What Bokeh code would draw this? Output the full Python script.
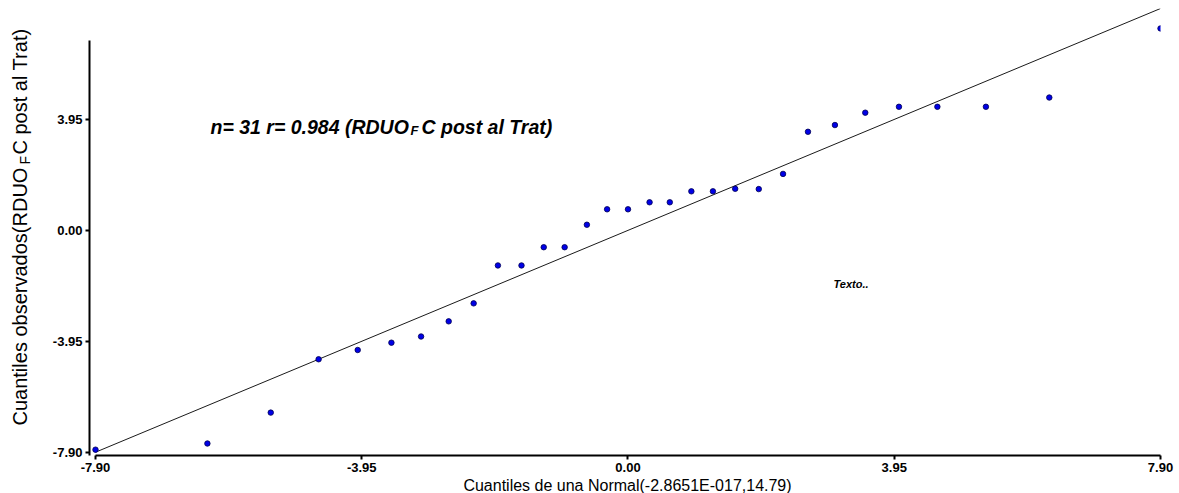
import math
from bokeh.plotting import figure
from bokeh.layouts import column, row
from bokeh.models import Label, FixedTicker, Range1d
from bokeh.core.properties import value
from bokeh.embed import file_html
from bokeh.resources import INLINE

# ---- data ----
theoretical = [-7.90, -6.24, -5.30, -4.59, -4.01, -3.51, -3.07, -2.66, -2.29,
               -1.93, -1.58, -1.25, -0.94, -0.61, -0.31, 0.00, 0.32, 0.62,
               0.94, 1.26, 1.59, 1.94, 2.30, 2.67, 3.07, 3.52, 4.02, 4.59,
               5.31, 6.25, 7.90]
observed = [-7.81, -7.59, -6.49, -4.59, -4.26, -4.00, -3.78, -3.24, -2.60,
            -1.25, -1.25, -0.60, -0.60, 0.20, 0.75, 0.75, 1.00, 1.00,
            1.39, 1.39, 1.48, 1.47, 2.01, 3.51, 3.75, 4.19, 4.40, 4.40,
            4.40, 4.73, 7.19]
ref_line_x = [-7.90, 7.90]
ref_line_y = [-7.90, 7.90]
x_tick_values = [-7.90, -3.95, 0.00, 3.95, 7.90]
x_tick_labels = ["-7.90", "-3.95", "0.00", "3.95", "7.90"]
y_tick_values = [-7.90, -3.95, 0.00, 3.95]
y_tick_labels = ["-7.90", "-3.95", "0.00", "3.95"]

x_title = "Cuantiles de una Normal(-2.8651E-017,14.79)"
y_title_a = "Cuantiles observados(RDUO"
y_title_sub = "F"
y_title_b = "C post al Trat)"
ann_a = "n= 31 r= 0.984 (RDUO"
ann_sub = "F"
ann_b = "C post al Trat)"
note = "Texto.."

FONT = "Liberation Sans"
W, H = 1179, 493
YT_W = 40          # width of the strip holding the vertical title
MAIN_H = 476       # height of the main plot
XT_H = H - MAIN_H  # strip holding the horizontal title
TOP, BOTTOM = 8, 21  # borders above / below the plotting frame


p = figure(width=W - YT_W, height=MAIN_H, output_backend="svg", toolbar_location=None,
           x_range=Range1d(-7.989, 7.90), y_range=Range1d(-8.017, 7.90),
           min_border_left=89 - YT_W, min_border_right=19, min_border_top=TOP,
           min_border_bottom=BOTTOM)
p.outline_line_color = None
p.xgrid.visible = False
p.ygrid.visible = False
p.background_fill_color = "white"
p.border_fill_color = "white"

# reference line
p.line(ref_line_x, ref_line_y, line_color="#1a1a1a", line_width=1)
# points
p.scatter(theoretical, observed, marker="circle", size=5.5,
          fill_color="#0000e6", line_color="#000050", line_width=0.8)

for ax, tv, tl in ((p.xaxis[0], x_tick_values, x_tick_labels),
                   (p.yaxis[0], y_tick_values, y_tick_labels)):
    ax.ticker = FixedTicker(ticks=tv)
    ax.major_label_overrides = {v: l for v, l in zip(tv, tl)}
    ax.minor_tick_line_color = None
    ax.major_tick_in = 0
    ax.major_tick_out = 4
    ax.axis_line_width = 2
    ax.major_tick_line_width = 2
    ax.axis_line_color = "black"
    ax.major_tick_line_color = "black"
    ax.major_label_text_font = FONT
    ax.major_label_text_font_style = "bold"
    ax.major_label_text_font_size = "13px"
    ax.major_label_text_color = "black"
    ax.axis_label = None

p.xaxis[0].bounds = (-7.90, 7.90)
p.xaxis[0].major_label_standoff = 3
p.yaxis[0].bounds = (-8.017, 6.75)
p.yaxis[0].major_label_standoff = 3

# annotation text inside the plot
p.add_layout(Label(x=-6.194, y=3.665, text=ann_a, text_font=FONT,
                   text_font_style="bold italic", text_font_size="19.5px",
                   text_baseline="alphabetic", text_align="left", text_color="black"))
p.add_layout(Label(x=-3.227, y=3.566, text=ann_sub, text_font=FONT,
                   text_font_style="bold italic", text_font_size="13px",
                   text_baseline="alphabetic", text_align="left", text_color="black"))
p.add_layout(Label(x=-3.064, y=3.665, text=ann_b, text_font=FONT,
                   text_font_style="bold italic", text_font_size="19.5px",
                   text_baseline="alphabetic", text_align="left", text_color="black"))
p.add_layout(Label(x=3.048, y=-1.897, text=note, text_font=FONT,
                   text_font_style="bold italic", text_font_size="11px",
                   text_baseline="alphabetic", text_align="left", text_color="black"))

# vertical title strip: same frame height as the main plot, data units = page pixels
yt = figure(width=YT_W, height=MAIN_H, output_backend="svg", toolbar_location=None,
            x_axis_type=None, y_axis_type=None,
            x_range=Range1d(0, YT_W), y_range=Range1d(MAIN_H - BOTTOM, TOP),
            min_border_left=0, min_border_right=0, min_border_top=TOP,
            min_border_bottom=BOTTOM)
yt.grid.visible = False
yt.outline_line_color = None
yt.background_fill_color = "white"
yt.border_fill_color = "white"
ang = math.pi / 2
yt.text(x=[19], y=[425], text=[y_title_a], angle=ang, text_font=value(FONT),
        text_font_size="20px", text_baseline="alphabetic", text_align="left",
        text_color="black")
yt.text(x=[24], y=[164], text=[y_title_sub], angle=ang, text_font=value(FONT),
        text_font_size="14px", text_baseline="alphabetic", text_align="left",
        text_color="black")
yt.text(x=[19], y=[154], text=[y_title_b], angle=ang, text_font=value(FONT),
        text_font_size="20px", text_baseline="alphabetic", text_align="left",
        text_color="black")

# horizontal title strip
xt = figure(width=W, height=XT_H, output_backend="svg", toolbar_location=None,
            x_axis_type=None, y_axis_type=None,
            x_range=Range1d(0, W), y_range=Range1d(XT_H, 0),
            min_border_left=0, min_border_right=0, min_border_top=0,
            min_border_bottom=0)
xt.grid.visible = False
xt.outline_line_color = None
xt.background_fill_color = "white"
xt.border_fill_color = "white"
xt.add_layout(Label(x=627, y=0, text=x_title, text_font=FONT,
                    text_font_size="16px", text_baseline="top",
                    text_align="center", text_color="black"))

layout = column(row(yt, p, spacing=0), xt, spacing=0)
open("out.html", "w").write(file_html(layout, INLINE))
